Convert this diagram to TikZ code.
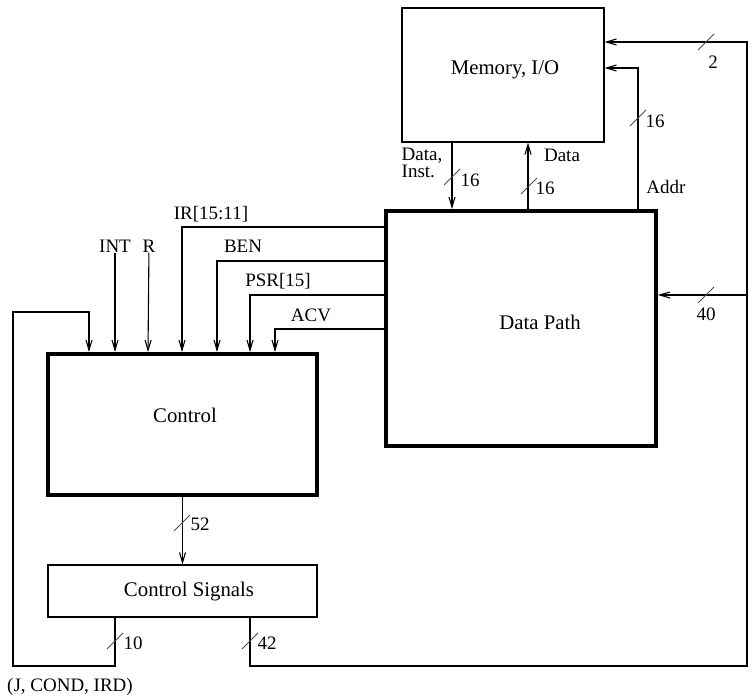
\documentclass[tikz,border=0pt]{standalone}
\usepackage{fontspec}
\setmainfont{Liberation Serif}
\usepackage{tikz}
\usetikzlibrary{arrows.meta, calc}
\tikzset{
    block/.style = {draw, line width=0.6pt, inner sep=0pt,
                    font=\fontsize{10.4}{12}\selectfont},
    bigblock/.style = {draw, line width=2pt, inner sep=0pt},
    title/.style = {font=\fontsize{10.4}{12}\selectfont},
    lbl/.style = {font=\fontsize{9.5}{8.5}\selectfont, inner sep=0pt},
    wire/.style = {-{Straight Barb[length=5pt, width=3pt]}, line width=0.55pt},
    slash/.style = {line width=0.4pt, draw=black!70},
}

\begin{document}
\begin{tikzpicture}[x=0.5pt, y=-0.5pt]
    \useasboundingbox (0,0) rectangle (756,699);
    % blocks
    \node[block, minimum width=101pt, minimum height=67pt] (mem) at (503,75) {};
    \node[bigblock, minimum width=135pt, minimum height=117.5pt] (dp) at (521,328.5) {};
    \node[bigblock, minimum width=134.5pt, minimum height=70.5pt] (ctrl) at (182.5,424.5) {};
    \node[block, minimum width=134.5pt, minimum height=26pt] (csig) at (182.5,591) {};
    \node[title] (memtext) at (505,70) {Memory, I/O};
    \node[title] (dptext) at (540,322) {Data Path};
    \node[title] (ctrltext) at (185,415) {Control};
    \node[title] (csigtext) at (189,592) {Control Signals};

    % input labels of the control
    \node[lbl] (int) at (115,246) {INT};
    \node[lbl] (r) at (149,246) {R};
    \node[lbl] (ir) at (211,214) {IR[15:11]};
    \node[lbl] (ben) at (243,246) {BEN};
    \node[lbl] (psr) at (278,281) {PSR[15]};
    \node[lbl] (acv) at (311,315) {ACV};

    % bus corners
    \coordinate (br) at (747,666);
    \coordinate (bl) at (13,666);
    \coordinate (tap) at (747,295);

    % memory <-> data path
    \draw[wire] (mem.south -| 452,0) -- (dp.north -| 452,0);
    \draw[wire] (dp.north -| 528,0) -- (mem.south -| 528,0);
    \draw[wire] (dp.north -| 638,0) |- (mem.east |- 0,68);
    \node[lbl, align=left] (inst) at (422,163) {Data,\\Inst.};
    \node[lbl] (dlbl) at (562,155) {Data};
    \node[lbl] (addr) at (666,187) {Addr};

    % control signal buses
    \draw[wire] (ctrl.south) -- (csig.north);
    \draw[wire] (csig.south -| 250,0) |- (br) |- (mem.east |- 0,42);
    \draw[wire] (tap) -- (dp.east |- tap);
    \draw[wire] (csig.south -| 115,0) |- (bl) |- (89,312) -- (ctrl.north -| 89,0);
    \node[lbl] (jcond) at (70,687) {(J, COND, IRD)};

    % status into control
    \draw[wire] (int) -- (ctrl.north -| int);
    \draw[wire] (r) -- (ctrl.north -| 148,0);
    \draw[wire] (dp.west |- 0,227) -| (ctrl.north -| 182,0);
    \draw[wire] (dp.west |- 0,261) -| (ctrl.north -| 217,0);
    \draw[wire] (dp.west |- 0,295) -| (ctrl.north -| 250,0);
    \draw[wire] (dp.west |- 0,329) -| (ctrl.north -| 275,0);

    % bus widths
    \draw[slash] (452,177) +(-8,8) -- +(8,-8);
    \draw[slash] (529,186) +(-8,8) -- +(8,-8);
    \draw[slash] (638,118) +(-8,8) -- +(8,-8);
    \draw[slash] (706,42) +(-8,8) -- +(8,-8);
    \draw[slash] (706,295) +(-8,8) -- +(8,-8);
    \draw[slash] (182,523) +(-8,8) -- +(8,-8);
    \draw[slash] (115,641) +(-8,8) -- +(8,-8);
    \draw[slash] (250,641) +(-8,8) -- +(8,-8);
    \node[lbl] at (470,180) {16};
    \node[lbl] at (545,188) {16};
    \node[lbl] at (655,121) {16};
    \node[lbl] at (713,62) {2};
    \node[lbl] at (706,314) {40};
    \node[lbl] at (200,524) {52};
    \node[lbl] at (133,643) {10};
    \node[lbl] at (267,643) {42};
\end{tikzpicture}
\end{document}
